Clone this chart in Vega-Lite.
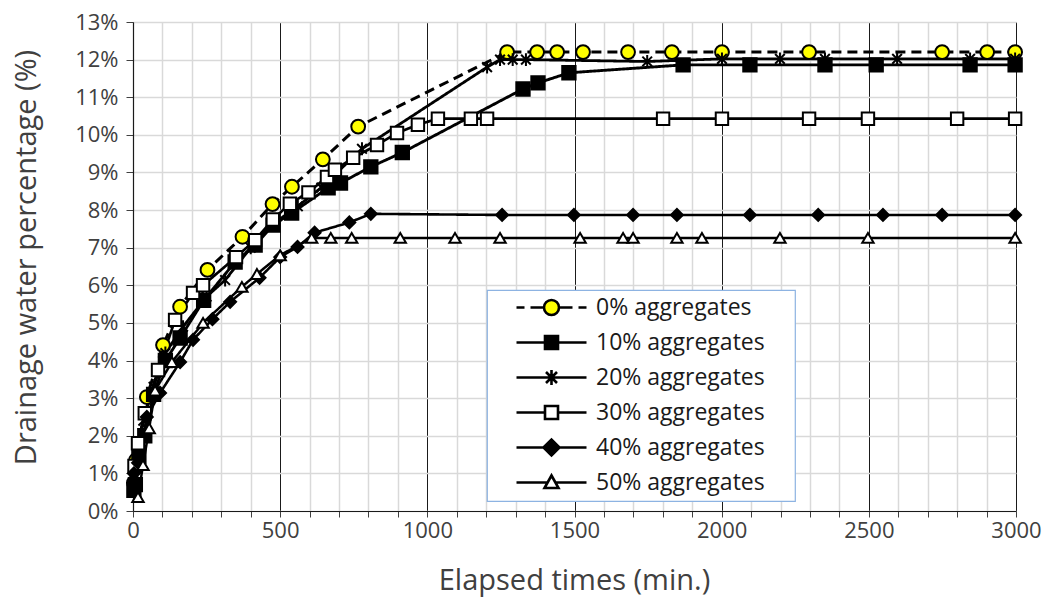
{
  "$schema": "https://vega.github.io/schema/vega-lite/v6.json",
  "width": 883,
  "height": 489,
  "autosize": {"type": "none"},
  "padding": {"left": 133, "top": 22, "right": 34, "bottom": 100},
  "background": "white",
  "data": {"values": [
    {"s": "0% aggregates", "t": 3, "p": 0.75},
    {"s": "0% aggregates", "t": 10, "p": 1.35},
    {"s": "0% aggregates", "t": 47, "p": 3.03},
    {"s": "0% aggregates", "t": 102, "p": 4.41},
    {"s": "0% aggregates", "t": 160, "p": 5.43},
    {"s": "0% aggregates", "t": 253, "p": 6.41},
    {"s": "0% aggregates", "t": 372, "p": 7.29},
    {"s": "0% aggregates", "t": 474, "p": 8.16},
    {"s": "0% aggregates", "t": 540, "p": 8.62},
    {"s": "0% aggregates", "t": 645, "p": 9.35},
    {"s": "0% aggregates", "t": 765, "p": 10.22},
    {"s": "0% aggregates", "t": 1271, "p": 12.2},
    {"s": "0% aggregates", "t": 1373, "p": 12.2},
    {"s": "0% aggregates", "t": 1441, "p": 12.2},
    {"s": "0% aggregates", "t": 1529, "p": 12.2},
    {"s": "0% aggregates", "t": 1682, "p": 12.2},
    {"s": "0% aggregates", "t": 1831, "p": 12.2},
    {"s": "0% aggregates", "t": 2001, "p": 12.2},
    {"s": "0% aggregates", "t": 2297, "p": 12.2},
    {"s": "0% aggregates", "t": 2749, "p": 12.2},
    {"s": "0% aggregates", "t": 2902, "p": 12.2},
    {"s": "0% aggregates", "t": 2997, "p": 12.2},

    {"s": "10% aggregates", "t": 3, "p": 0.55},
    {"s": "10% aggregates", "t": 8, "p": 0.7},
    {"s": "10% aggregates", "t": 20, "p": 1.45},
    {"s": "10% aggregates", "t": 40, "p": 2.0},
    {"s": "10% aggregates", "t": 70, "p": 3.1},
    {"s": "10% aggregates", "t": 110, "p": 4.0},
    {"s": "10% aggregates", "t": 160, "p": 4.6},
    {"s": "10% aggregates", "t": 240, "p": 5.6},
    {"s": "10% aggregates", "t": 347, "p": 6.62},
    {"s": "10% aggregates", "t": 415, "p": 7.07},
    {"s": "10% aggregates", "t": 476, "p": 7.6},
    {"s": "10% aggregates", "t": 539, "p": 7.92},
    {"s": "10% aggregates", "t": 663, "p": 8.59},
    {"s": "10% aggregates", "t": 705, "p": 8.72},
    {"s": "10% aggregates", "t": 808, "p": 9.15},
    {"s": "10% aggregates", "t": 915, "p": 9.53},
    {"s": "10% aggregates", "t": 1325, "p": 11.22},
    {"s": "10% aggregates", "t": 1376, "p": 11.38},
    {"s": "10% aggregates", "t": 1481, "p": 11.65},
    {"s": "10% aggregates", "t": 1869, "p": 11.86},
    {"s": "10% aggregates", "t": 2096, "p": 11.86},
    {"s": "10% aggregates", "t": 2351, "p": 11.86},
    {"s": "10% aggregates", "t": 2525, "p": 11.86},
    {"s": "10% aggregates", "t": 2844, "p": 11.86},
    {"s": "10% aggregates", "t": 2997, "p": 11.86},

    {"s": "20% aggregates", "t": 3, "p": 0.9},
    {"s": "20% aggregates", "t": 15, "p": 1.7},
    {"s": "20% aggregates", "t": 35, "p": 2.4},
    {"s": "20% aggregates", "t": 70, "p": 3.3},
    {"s": "20% aggregates", "t": 110, "p": 4.2},
    {"s": "20% aggregates", "t": 170, "p": 4.9},
    {"s": "20% aggregates", "t": 250, "p": 5.7},
    {"s": "20% aggregates", "t": 313, "p": 6.14},
    {"s": "20% aggregates", "t": 400, "p": 7.0},
    {"s": "20% aggregates", "t": 470, "p": 7.6},
    {"s": "20% aggregates", "t": 560, "p": 8.1},
    {"s": "20% aggregates", "t": 640, "p": 8.6},
    {"s": "20% aggregates", "t": 778, "p": 9.63},
    {"s": "20% aggregates", "t": 1203, "p": 11.8},
    {"s": "20% aggregates", "t": 1247, "p": 12.0},
    {"s": "20% aggregates", "t": 1290, "p": 12.0},
    {"s": "20% aggregates", "t": 1335, "p": 12.0},
    {"s": "20% aggregates", "t": 1747, "p": 11.95},
    {"s": "20% aggregates", "t": 2001, "p": 12.02},
    {"s": "20% aggregates", "t": 2198, "p": 12.02},
    {"s": "20% aggregates", "t": 2351, "p": 12.02},
    {"s": "20% aggregates", "t": 2596, "p": 12.02},
    {"s": "20% aggregates", "t": 2844, "p": 12.02},
    {"s": "20% aggregates", "t": 2997, "p": 12.02},

    {"s": "30% aggregates", "t": 5, "p": 1.2},
    {"s": "30% aggregates", "t": 17, "p": 1.8},
    {"s": "30% aggregates", "t": 40, "p": 2.6},
    {"s": "30% aggregates", "t": 85, "p": 3.75},
    {"s": "30% aggregates", "t": 143, "p": 5.08},
    {"s": "30% aggregates", "t": 204, "p": 5.8},
    {"s": "30% aggregates", "t": 238, "p": 6.0},
    {"s": "30% aggregates", "t": 350, "p": 6.75},
    {"s": "30% aggregates", "t": 415, "p": 7.2},
    {"s": "30% aggregates", "t": 475, "p": 7.75},
    {"s": "30% aggregates", "t": 533, "p": 8.17},
    {"s": "30% aggregates", "t": 596, "p": 8.47},
    {"s": "30% aggregates", "t": 659, "p": 8.88},
    {"s": "30% aggregates", "t": 686, "p": 9.07},
    {"s": "30% aggregates", "t": 748, "p": 9.39},
    {"s": "30% aggregates", "t": 829, "p": 9.73},
    {"s": "30% aggregates", "t": 897, "p": 10.05},
    {"s": "30% aggregates", "t": 968, "p": 10.27},
    {"s": "30% aggregates", "t": 1036, "p": 10.43},
    {"s": "30% aggregates", "t": 1148, "p": 10.43},
    {"s": "30% aggregates", "t": 1203, "p": 10.43},
    {"s": "30% aggregates", "t": 1801, "p": 10.43},
    {"s": "30% aggregates", "t": 2001, "p": 10.43},
    {"s": "30% aggregates", "t": 2297, "p": 10.43},
    {"s": "30% aggregates", "t": 2497, "p": 10.43},
    {"s": "30% aggregates", "t": 2800, "p": 10.43},
    {"s": "30% aggregates", "t": 2997, "p": 10.43},

    {"s": "40% aggregates", "t": 3, "p": 1.0},
    {"s": "40% aggregates", "t": 17, "p": 1.28},
    {"s": "40% aggregates", "t": 47, "p": 2.5},
    {"s": "40% aggregates", "t": 92, "p": 3.14},
    {"s": "40% aggregates", "t": 160, "p": 3.96},
    {"s": "40% aggregates", "t": 204, "p": 4.55},
    {"s": "40% aggregates", "t": 270, "p": 5.1},
    {"s": "40% aggregates", "t": 330, "p": 5.56},
    {"s": "40% aggregates", "t": 430, "p": 6.2},
    {"s": "40% aggregates", "t": 500, "p": 6.75},
    {"s": "40% aggregates", "t": 559, "p": 7.02},
    {"s": "40% aggregates", "t": 617, "p": 7.4},
    {"s": "40% aggregates", "t": 735, "p": 7.67},
    {"s": "40% aggregates", "t": 808, "p": 7.9},
    {"s": "40% aggregates", "t": 1254, "p": 7.87},
    {"s": "40% aggregates", "t": 1498, "p": 7.87},
    {"s": "40% aggregates", "t": 1699, "p": 7.87},
    {"s": "40% aggregates", "t": 1848, "p": 7.87},
    {"s": "40% aggregates", "t": 2096, "p": 7.87},
    {"s": "40% aggregates", "t": 2328, "p": 7.87},
    {"s": "40% aggregates", "t": 2548, "p": 7.87},
    {"s": "40% aggregates", "t": 2749, "p": 7.87},
    {"s": "40% aggregates", "t": 2997, "p": 7.87},

    {"s": "50% aggregates", "t": 17, "p": 0.37},
    {"s": "50% aggregates", "t": 34, "p": 1.22},
    {"s": "50% aggregates", "t": 55, "p": 2.2},
    {"s": "50% aggregates", "t": 75, "p": 3.2},
    {"s": "50% aggregates", "t": 132, "p": 3.96},
    {"s": "50% aggregates", "t": 238, "p": 5.0},
    {"s": "50% aggregates", "t": 370, "p": 5.96},
    {"s": "50% aggregates", "t": 421, "p": 6.3},
    {"s": "50% aggregates", "t": 500, "p": 6.8},
    {"s": "50% aggregates", "t": 607, "p": 7.26},
    {"s": "50% aggregates", "t": 672, "p": 7.26},
    {"s": "50% aggregates", "t": 743, "p": 7.26},
    {"s": "50% aggregates", "t": 908, "p": 7.26},
    {"s": "50% aggregates", "t": 1094, "p": 7.26},
    {"s": "50% aggregates", "t": 1247, "p": 7.26},
    {"s": "50% aggregates", "t": 1519, "p": 7.26},
    {"s": "50% aggregates", "t": 1665, "p": 7.26},
    {"s": "50% aggregates", "t": 1699, "p": 7.26},
    {"s": "50% aggregates", "t": 1848, "p": 7.26},
    {"s": "50% aggregates", "t": 1933, "p": 7.26},
    {"s": "50% aggregates", "t": 2198, "p": 7.26},
    {"s": "50% aggregates", "t": 2497, "p": 7.26},
    {"s": "50% aggregates", "t": 2997, "p": 7.26}
  ]},
  "encoding": {
    "x": {
      "field": "t", "type": "quantitative",
      "scale": {"domain": [0, 3000], "nice": false},
      "axis": {
        "title": "Elapsed times (min.)",
        "values": [0,100,200,300,400,500,600,700,800,900,1000,1100,1200,1300,1400,1500,1600,1700,1800,1900,2000,2100,2200,2300,2400,2500,2600,2700,2800,2900,3000],
        "format": "d",
        "labelExpr": "datum.value % 500 === 0 ? datum.label : ''",
        "labelOverlap": false,
        "labelFlush": false,
        "grid": true,
        "gridColor": {"condition": {"test": "datum.value % 500 === 0", "value": "#1a1a1a"}, "value": "#d9d9d9"},
        "gridWidth": {"condition": {"test": "datum.value % 500 === 0", "value": 1}, "value": 1.5},
        "tickSize": 6,
        "tickColor": "#404040",
        "labelPadding": 3,
        "titleX": 441,
        "titleY": 69,
        "titleBaseline": "middle"
      }
    },
    "y": {
      "field": "p", "type": "quantitative",
      "scale": {"domain": [0, 13], "nice": false},
      "axis": {
        "title": "Drainage water  percentage (%)",
        "values": [0,1,2,3,4,5,6,7,8,9,10,11,12,13],
        "labelExpr": "datum.value + '%'",
        "grid": true,
        "gridColor": "#d9d9d9",
        "gridWidth": 1.5,
        "tickSize": 7,
        "tickColor": "#404040",
        "labelPadding": 8,
        "titleX": -107,
        "titleY": 235,
        "titleAngle": -90,
        "titleAlign": "center",
        "titleBaseline": "middle"
      }
    }
  },
  "layer": [
    {
      "mark": {"type": "line", "color": "black"},
      "encoding": {
        "detail": {"field": "s", "type": "nominal"},
        "strokeDash": {
          "field": "s", "type": "nominal",
          "scale": {"domain": ["0% aggregates","10% aggregates","20% aggregates","30% aggregates","40% aggregates","50% aggregates"],
                    "range": [[10,6],[1,0],[1,0],[1,0],[1,0],[1,0]]},
          "legend": null
        },
        "strokeWidth": {
          "field": "s", "type": "ordinal",
          "scale": {"domain": ["0% aggregates","10% aggregates","20% aggregates","30% aggregates","40% aggregates","50% aggregates"],
                    "range": [3, 2.5, 1.5, 2, 2.5, 1.5]},
          "legend": null
        }
      }
    },
    {
      "mark": {"type": "point", "filled": true, "stroke": "black", "strokeWidth": 2, "opacity": 1},
      "encoding": {
        "shape": {
          "field": "s", "type": "nominal",
          "scale": {"domain": ["0% aggregates","10% aggregates","20% aggregates","30% aggregates","40% aggregates","50% aggregates"],
                    "range": ["circle","square","M0,-1V1M-0.75,-0.75L0.75,0.75M-0.75,0.75L0.75,-0.75","square","diamond","triangle-up"]},
          "legend": null
        },
        "color": {
          "field": "s", "type": "nominal",
          "scale": {"domain": ["0% aggregates","10% aggregates","20% aggregates","30% aggregates","40% aggregates","50% aggregates"],
                    "range": ["#FFFF00","#000000","#000000","#FFFFFF","#000000","#FFFFFF"]},
          "legend": null
        },
        "size": {
          "field": "s", "type": "ordinal",
          "scale": {"domain": ["0% aggregates","10% aggregates","20% aggregates","30% aggregates","40% aggregates","50% aggregates"],
                    "range": [190, 130, 150, 140, 190, 130]},
          "legend": null
        }
      }
    },
    {
      "transform": [{"filter": {"field": "t", "lt": 0}}],
      "mark": {"type": "point", "filled": true, "stroke": "#000000", "strokeWidth": 2.6, "opacity": 1},
      "encoding": {
        "fill": {
          "field": "s", "type": "nominal",
          "scale": {"domain": ["0% aggregates","10% aggregates","20% aggregates","30% aggregates","40% aggregates","50% aggregates"],
                    "range": ["#FFFF00","#000000","#000000","#FFFFFF","#000000","#FFFFFF"]},
          "legend": {
            "title": "\u00a0",
            "titleOrient": "right",
            "titleFontSize": 10,
            "titlePadding": 24,
            "orient": "none",
            "legendX": 354,
            "legendY": 268,
            "symbolStrokeWidth": 2.6,
            "symbolOpacity": 1
          }
        },
        "shape": {
          "field": "s", "type": "nominal",
          "scale": {"domain": ["0% aggregates","10% aggregates","20% aggregates","30% aggregates","40% aggregates","50% aggregates"],
                    "range": [
                      "M2.4,0H4M5.2,0H7.9M10.9,0H13.6M14.8,0H16.4M7.9,0A1.5,1.5 0 1,1 10.9,0A1.5,1.5 0 1,1 7.9,0Z",
                      "M2.4,0H8.1M10.7,0H16.4M8.1,-1.3H10.7V1.3H8.1Z",
                      "M2.4,0H16.4M9.4,-1.5V1.5M8.3,-1.1L10.5,1.1M8.3,1.1L10.5,-1.1",
                      "M2.4,0H8.1M10.7,0H16.4M8.1,-1.3H10.7V1.3H8.1Z",
                      "M2.4,0H7.8M11,0H16.4M7.8,0L9.4,-1.6L11,0L9.4,1.6Z",
                      "M2.4,0H8.6M10.2,0H16.4M9.4,-1.4L10.8,1.1H8L9.4,-1.4Z"
                    ]},
          "legend": {
            "title": "\u00a0",
            "titleOrient": "right",
            "titleFontSize": 10,
            "titlePadding": 24,
            "orient": "none",
            "legendX": 354,
            "legendY": 268,
            "symbolStrokeWidth": 2.6,
            "symbolOpacity": 1
          }
        }
      }
    }
  ],
  "resolve": {"scale": {"shape": "independent", "fill": "independent"}},
  "config": {
    "view": {"stroke": null},
    "font": "Open Sans",
    "axis": {
      "labelFont": "Open Sans",
      "labelFontSize": 22,
      "labelColor": "#404040",
      "titleFont": "Open Sans",
      "titleFontSize": 29,
      "titleFontWeight": "normal",
      "titleColor": "#404040",
      "domainColor": "#1a1a1a",
      "domainWidth": 1.2
    },
    "legend": {
      "fillColor": "white",
      "strokeColor": "#8db3e2",
      "strokeWidth": 1.2,
      "padding": 6,
      "symbolSize": 100,
      "symbolStrokeWidth": 2.6,
      "symbolOpacity": 1,
      "labelFont": "Open Sans",
      "labelFontSize": 23,
      "labelColor": "#1a1a1a",
      "labelOffset": 80,
      "labelLimit": 400,
      "rowPadding": 9
    }
  }
}
